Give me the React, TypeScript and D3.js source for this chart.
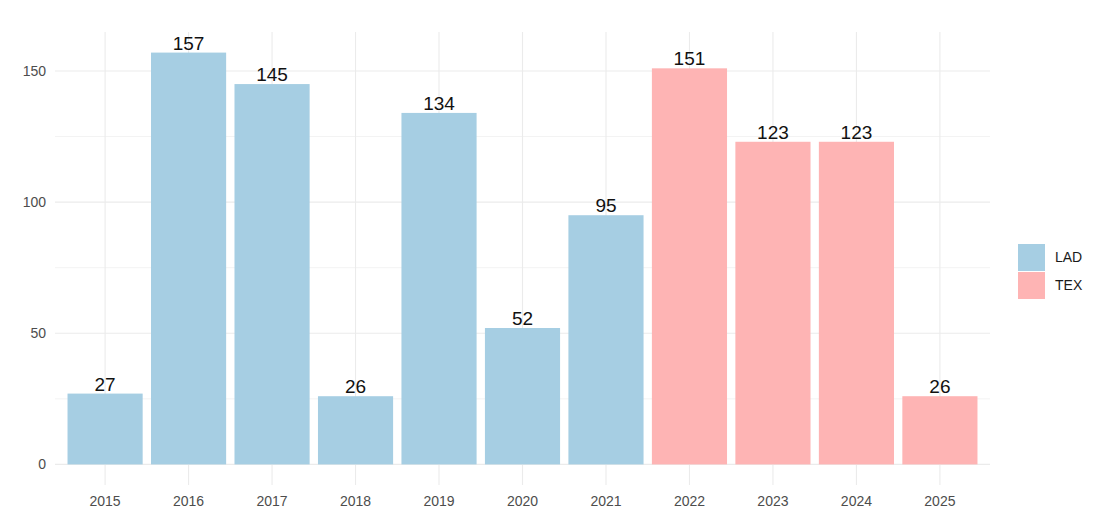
import { useEffect, useRef } from 'react'
import * as d3 from 'd3'

const YEARS = ['2015', '2016', '2017', '2018', '2019', '2020', '2021', '2022', '2023', '2024', '2025']
const COUNTS = [27, 157, 145, 26, 134, 52, 95, 151, 123, 123, 26]
const GROUPS = ['LAD', 'LAD', 'LAD', 'LAD', 'LAD', 'LAD', 'LAD', 'TEX', 'TEX', 'TEX', 'TEX']
const LEGEND = ['LAD', 'TEX']
const COLORS = ['#A6CEE3', '#FEB4B4']
const Y_TICKS = [0, 50, 100, 150]
const Y_MINOR = [25, 75, 125]

const WIDTH = 1095
const HEIGHT = 522
const PANEL = { left: 55, right: 990, top: 32, bottom: 485 }
const FONT = '"Liberation Sans", Arial, sans-serif'
const GRID = '#EBEBEB'

export default function App() {
  const svgRef = useRef<SVGSVGElement>(null)

  useEffect(() => {
    const svg = d3.select(svgRef.current)
    svg.selectAll('*').remove()

    const maxV = d3.max(COUNTS) ?? 0
    const pad = maxV * 0.05
    const y = d3.scaleLinear([-pad, maxV + pad], [PANEL.bottom, PANEL.top])

    // discrete axis with 0.6 unit expansion each side
    const n = YEARS.length
    const step = (PANEL.right - PANEL.left) / (n - 1 + 1.2)
    const x = d3.scalePoint<string>().domain(YEARS)
      .range([PANEL.left + 0.6 * step, PANEL.right - 0.6 * step])
    const barW = step * 0.9

    const color = d3.scaleOrdinal<string, string>(LEGEND, COLORS)

    const g = svg.append('g')

    // ── Grid ──────────────────────────────────────────────
    Y_MINOR.forEach(v => {
      g.append('line')
        .attr('x1', PANEL.left).attr('x2', PANEL.right)
        .attr('y1', y(v)).attr('y2', y(v))
        .attr('stroke', GRID).attr('stroke-width', 0.6)
    })
    Y_TICKS.forEach(v => {
      g.append('line')
        .attr('x1', PANEL.left).attr('x2', PANEL.right)
        .attr('y1', y(v)).attr('y2', y(v))
        .attr('stroke', GRID).attr('stroke-width', 1.1)
    })
    YEARS.forEach(yr => {
      g.append('line')
        .attr('x1', x(yr)!).attr('x2', x(yr)!)
        .attr('y1', PANEL.top).attr('y2', PANEL.bottom)
        .attr('stroke', GRID).attr('stroke-width', 1.1)
    })

    // ── Bars + labels ─────────────────────────────────────
    YEARS.forEach((yr, i) => {
      const cx = x(yr)!
      g.append('rect')
        .attr('x', cx - barW / 2).attr('width', barW)
        .attr('y', y(COUNTS[i])).attr('height', y(0) - y(COUNTS[i]))
        .attr('fill', color(GROUPS[i]))
      g.append('text')
        .attr('x', cx).attr('y', y(COUNTS[i]) - 3)
        .attr('text-anchor', 'middle').attr('font-size', 19)
        .attr('font-family', FONT).attr('fill', '#111')
        .text(COUNTS[i])
    })

    // ── Axis labels ───────────────────────────────────────
    Y_TICKS.forEach(v => {
      g.append('text')
        .attr('x', PANEL.left - 9).attr('y', y(v))
        .attr('dy', '0.35em').attr('text-anchor', 'end')
        .attr('font-size', 14).attr('font-family', FONT).attr('fill', '#4D4D4D')
        .text(v)
    })
    YEARS.forEach(yr => {
      g.append('text')
        .attr('x', x(yr)!).attr('y', 506)
        .attr('text-anchor', 'middle')
        .attr('font-size', 14).attr('font-family', FONT).attr('fill', '#4D4D4D')
        .text(yr)
    })

    // ── Legend ────────────────────────────────────────────
    LEGEND.forEach((name, i) => {
      const ly = 244 + i * 28
      g.append('rect')
        .attr('x', 1018).attr('y', ly).attr('width', 27).attr('height', 27)
        .attr('fill', color(name))
      g.append('text')
        .attr('x', 1055).attr('y', ly + 13.5).attr('dy', '0.35em')
        .attr('font-size', 14).attr('font-family', FONT).attr('fill', '#1A1A1A')
        .text(name)
    })
  }, [])

  return (
    <svg
      ref={svgRef}
      width={WIDTH}
      height={HEIGHT}
      style={{ position: 'absolute', left: 0, top: 0, background: '#fff' }}
    />
  )
}
